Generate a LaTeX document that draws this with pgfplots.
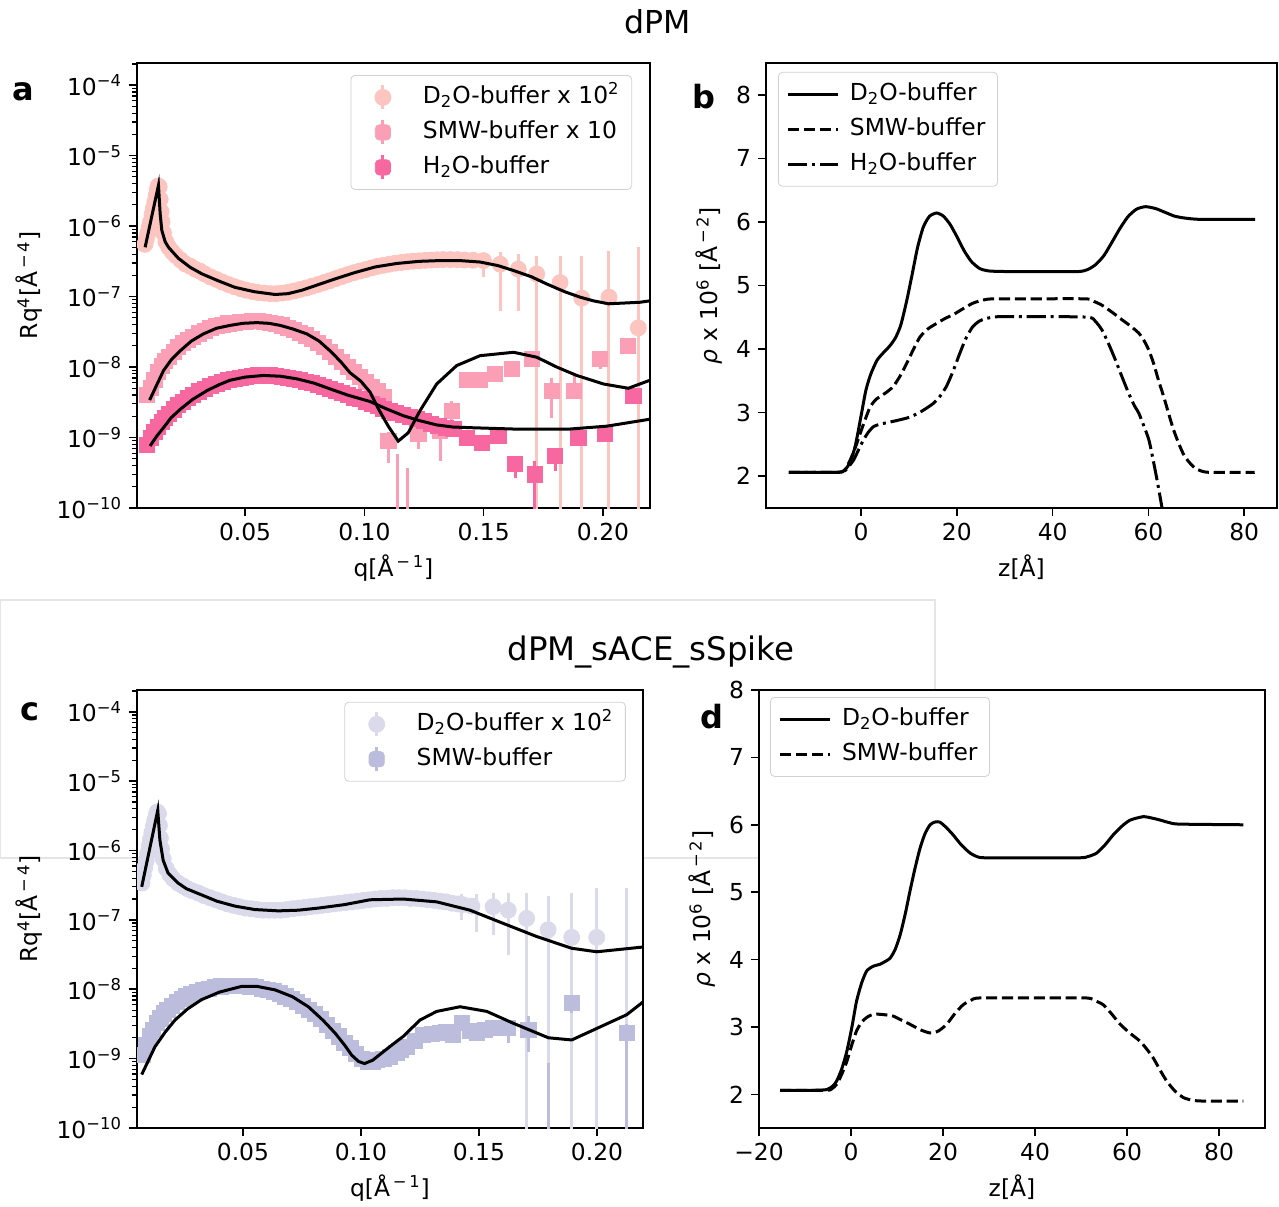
\documentclass[border=0pt]{standalone}
\usepackage{fontspec}
\setmainfont{DejaVu Sans}
\usepackage{pgfplots}
\pgfplotsset{compat=1.18}

\definecolor{pkA}{HTML}{FCC5C0}
\definecolor{pkB}{HTML}{FA9FB5}
\definecolor{pkC}{HTML}{F768A1}
\definecolor{puA}{HTML}{DADAEB}
\definecolor{puB}{HTML}{BCBDDC}

\newcommand{\fs}{\fontsize{11.7}{14}\selectfont}
\newcommand{\Am}[1]{Å\textsuperscript{\,−\,#1}}

\pgfplotsset{
  base/.style={
    scale only axis, anchor=south west,
    clip marker paths=true,
    axis background/.style={fill=white},
    axis line style={line width=0.8pt},
    tick align=outside, tick pos=left,
    major tick length=4pt, minor tick length=2.3pt,
    tick style={line width=0.8pt, black},
    minor tick style={line width=0.6pt},
    tick label style={font=\fs},
    label style={font=\fs},
    legend cell align=left,
    legend style={font=\fs, draw=black!18, rounded corners=2pt, fill=white,
      inner xsep=4pt, inner ysep=3pt, row sep=1.5pt,
      nodes={text height=9pt, text depth=3pt, inner sep=2pt}},
  },
  refl/.style={
    ymin=1e-10, ymax=2.06e-4,
    xtick={0.05,0.1,0.15,0.2}, xticklabels={0.05,0.10,0.15,0.20},
    ytick={1e-10,1e-9,1e-8,1e-7,1e-6,1e-5,1e-4},
    yticklabels={10\textsuperscript{−10},10\textsuperscript{−9},10\textsuperscript{−8},10\textsuperscript{−7},10\textsuperscript{−6},10\textsuperscript{−5},10\textsuperscript{−4}},
    minor ytick={2e-10,3e-10,4e-10,5e-10,6e-10,7e-10,8e-10,9e-10,
      2e-9,3e-9,4e-9,5e-9,6e-9,7e-9,8e-9,9e-9,
      2e-8,3e-8,4e-8,5e-8,6e-8,7e-8,8e-8,9e-8,
      2e-7,3e-7,4e-7,5e-7,6e-7,7e-7,8e-7,9e-7,
      2e-6,3e-6,4e-6,5e-6,6e-6,7e-6,8e-6,9e-6,
      2e-5,3e-5,4e-5,5e-5,6e-5,7e-5,8e-5,9e-5,2e-4},
    xlabel={q[\Am{1}]}, ylabel={Rq\textsuperscript{4}[\Am{4}]},
  },
  sld/.style={
    ytick={2,3,4,5,6,7,8}, yticklabels={2,3,4,5,6,7,8},
    xlabel={z[Å]}, ylabel={\textit{ρ} x 10\textsuperscript{6} [\Am{2}]},
    legend image code/.code={\draw[##1] (0pt,0pt) -- (25pt,0pt); \path[draw=none] (25pt,0pt) -- (29pt,0pt);},
  },
  circ/.style={only marks, mark=*, mark size=4pt, forget plot},
  sq/.style={only marks, mark=square*, mark size=3.8pt, forget plot},
  eb/.style={line width=1.5pt, forget plot},
  fitl/.style={black, line width=1.5pt, forget plot},
  prof/.style={black, line width=1.5pt, smooth, tension=0.4},
}

\begin{document}
\begin{tikzpicture}

% stray white box behind the lower panels
\draw[black!10, fill=white, line width=0.6pt] (0pt,174pt) rectangle (467.5pt,303pt);

\node[font=\fontsize{15.8}{18}\selectfont] at (329pt,592pt) {dPM};
\node[font=\fontsize{16.2}{18}\selectfont] at (325.5pt,277pt) {dPM\_sACE\_sSpike};

% ---------------- a ----------------
\begin{axis}[ymode=log, base, refl, at={(68.5pt,349pt)}, width=256.5pt, height=222.5pt,
  xmin=0.0047, xmax=0.2197,
  legend style={at={(0.965,0.973)}, anchor=north east}]
\addlegendimage{legend image code/.code={\draw[pkA, line width=1.5pt] (12pt,-6pt) -- (12pt,6pt); \fill[pkA] (12pt,0pt) circle (4pt); \path[draw=none] (0pt,0pt) rectangle (30pt,0.1pt);}}
\addlegendentry{D\textsubscript{2}O-buffer x 10\textsuperscript{2}}
\addlegendimage{legend image code/.code={\draw[pkB, line width=1.5pt] (12pt,-6pt) -- (12pt,6pt); \fill[pkB] (8.2pt,-3.8pt) rectangle (15.8pt,3.8pt); \path[draw=none] (0pt,0pt) rectangle (30pt,0.1pt);}}
\addlegendentry{SMW-buffer x 10}
\addlegendimage{legend image code/.code={\draw[pkC, line width=1.5pt] (12pt,-6pt) -- (12pt,6pt); \fill[pkC] (8.2pt,-3.8pt) rectangle (15.8pt,3.8pt); \path[draw=none] (0pt,0pt) rectangle (30pt,0.1pt);}}
\addlegendentry{H\textsubscript{2}O-buffer}

% D2O x 100
\addplot[circ, pkA] coordinates {(0.0080,5.5e-7)(0.0086,6.5e-7)(0.0092,7.9e-7)(0.0098,9.5e-7)(0.0104,1.15e-6)(0.0110,1.45e-6)(0.0116,1.8e-6)(0.0122,2.2e-6)(0.0127,2.7e-6)(0.0132,3.3e-6)(0.0136,3.7e-6)(0.0140,3.6e-6)(0.0144,2.4e-6)(0.0148,1.6e-6)(0.0152,1.15e-6)(0.0158,8.0e-7)(0.0168,6.0e-7)(0.0180,5.0e-7)(0.0195,4.3e-7)(0.0210,3.8e-7)(0.0230,3.3e-7)(0.0250,2.9e-7)(0.0270,2.7e-7)(0.0290,2.45e-7)(0.0310,2.3e-7)(0.0330,2.1e-7)(0.0355,1.9e-7)(0.0380,1.75e-7)(0.0405,1.6e-7)(0.0430,1.48e-7)(0.0455,1.38e-7)(0.0480,1.30e-7)(0.0505,1.23e-7)(0.0530,1.18e-7)(0.0555,1.14e-7)(0.0580,1.12e-7)(0.0605,1.10e-7)(0.0630,1.10e-7)(0.0655,1.12e-7)(0.0680,1.15e-7)(0.0705,1.20e-7)(0.0730,1.26e-7)(0.0755,1.32e-7)(0.0780,1.40e-7)(0.0805,1.48e-7)(0.0830,1.58e-7)(0.0855,1.68e-7)(0.0880,1.80e-7)(0.0905,1.92e-7)(0.0930,2.05e-7)(0.0955,2.18e-7)(0.0980,2.30e-7)(0.1005,2.42e-7)(0.1030,2.55e-7)(0.1055,2.68e-7)(0.1080,2.78e-7)(0.1105,2.88e-7)(0.1130,2.98e-7)(0.1155,3.05e-7)(0.1180,3.12e-7)(0.1205,3.18e-7)(0.1230,3.22e-7)(0.1255,3.26e-7)(0.1280,3.30e-7)(0.1305,3.33e-7)(0.1330,3.35e-7)(0.1360,3.35e-7)(0.1390,3.34e-7)(0.1420,3.30e-7)(0.1455,3.28e-7)(0.1499,3.24e-7)(0.1569,2.88e-7)(0.1645,2.45e-7)(0.1722,2.09e-7)(0.1820,1.58e-7)(0.1911,9.5e-8)(0.2025,9.8e-8)(0.2148,3.6e-8)};
\addplot[eb, pkA] coordinates {(0.1499,4.1e-7)(0.1499,1.9e-7)};
\addplot[eb, pkA] coordinates {(0.1569,4.3e-7)(0.1569,6.3e-8)};
\addplot[eb, pkA] coordinates {(0.1645,4.0e-7)(0.1645,6.3e-8)};
\addplot[eb, pkA] coordinates {(0.1722,3.8e-7)(0.1722,1e-11)};
\addplot[eb, pkA] coordinates {(0.1820,3.8e-7)(0.1820,1e-11)};
\addplot[eb, pkA] coordinates {(0.1911,3.8e-7)(0.1911,1e-11)};
\addplot[eb, pkA] coordinates {(0.2025,4.5e-7)(0.2025,1e-11)};
\addplot[eb, pkA] coordinates {(0.2148,5.0e-7)(0.2148,1e-11)};

% SMW x 10
\addplot[sq, pkB] coordinates {(0.0090,4.0e-9)(0.0105,5.0e-9)(0.0120,6.6e-9)(0.0135,8.5e-9)(0.0150,1.05e-8)(0.0165,1.23e-8)(0.0180,1.41e-8)(0.0200,1.66e-8)(0.0220,1.91e-8)(0.0240,2.19e-8)(0.0260,2.45e-8)(0.0280,2.69e-8)(0.0305,3.0e-8)(0.0330,3.3e-8)(0.0355,3.55e-8)(0.0380,3.8e-8)(0.0405,3.98e-8)(0.0430,4.17e-8)(0.0455,4.27e-8)(0.0480,4.37e-8)(0.0505,4.4e-8)(0.0530,4.47e-8)(0.0555,4.47e-8)(0.0580,4.37e-8)(0.0605,4.27e-8)(0.0630,4.07e-8)(0.0655,3.9e-8)(0.0680,3.63e-8)(0.0705,3.39e-8)(0.0730,3.09e-8)(0.0755,2.82e-8)(0.0780,2.51e-8)(0.0805,2.19e-8)(0.0830,1.91e-8)(0.0855,1.66e-8)(0.0880,1.41e-8)(0.0905,1.17e-8)(0.0930,1.0e-8)(0.0955,8.5e-9)(0.0980,7.2e-9)(0.1005,6.2e-9)(0.1030,5.2e-9)(0.1055,4.5e-9)(0.1080,3.8e-9)(0.1101,8.9e-10)(0.1226,1.12e-9)(0.1317,1.23e-9)(0.1366,2.4e-9)(0.1429,6.5e-9)(0.1485,6.5e-9)(0.1548,7.9e-9)(0.1618,9.3e-9)(0.1702,1.29e-8)(0.1785,4.6e-9)(0.1879,4.6e-9)(0.1988,1.29e-8)(0.2106,2.0e-8)};
\addplot[eb, pkB] coordinates {(0.1101,1.2e-9)(0.1101,4.3e-10)};
\addplot[eb, pkB] coordinates {(0.1140,5.9e-10)(0.1140,1e-11)};
\addplot[eb, pkB] coordinates {(0.1180,3.7e-10)(0.1180,1e-11)};
\addplot[eb, pkB] coordinates {(0.1226,1.4e-9)(0.1226,6.9e-10)};
\addplot[eb, pkB] coordinates {(0.1317,1.5e-9)(0.1317,4.7e-10)};
\addplot[eb, pkB] coordinates {(0.1366,3.3e-9)(0.1366,1.78e-9)};
\addplot[eb, pkB] coordinates {(0.1785,7.1e-9)(0.1785,1.9e-9)};
\addplot[eb, pkB] coordinates {(0.1879,7.9e-9)(0.1879,3.6e-9)};
\addplot[eb, pkB] coordinates {(0.1988,1.5e-8)(0.1988,9.3e-9)};

% H2O
\addplot[sq, pkC] coordinates {(0.0090,7.9e-10)(0.0105,1.0e-9)(0.0120,1.2e-9)(0.0135,1.41e-9)(0.0150,1.66e-9)(0.0165,1.91e-9)(0.0180,2.14e-9)(0.0200,2.51e-9)(0.0220,2.88e-9)(0.0240,3.24e-9)(0.0260,3.63e-9)(0.0280,4.0e-9)(0.0305,4.5e-9)(0.0330,4.9e-9)(0.0355,5.4e-9)(0.0380,5.75e-9)(0.0405,6.2e-9)(0.0430,6.5e-9)(0.0455,6.8e-9)(0.0480,7.1e-9)(0.0505,7.2e-9)(0.0530,7.4e-9)(0.0555,7.6e-9)(0.0580,7.6e-9)(0.0605,7.6e-9)(0.0630,7.4e-9)(0.0655,7.2e-9)(0.0680,7.1e-9)(0.0705,6.8e-9)(0.0730,6.5e-9)(0.0755,6.2e-9)(0.0780,5.9e-9)(0.0805,5.6e-9)(0.0830,5.2e-9)(0.0855,4.9e-9)(0.0880,4.6e-9)(0.0905,4.3e-9)(0.0930,4.0e-9)(0.0955,3.7e-9)(0.0980,3.5e-9)(0.1005,3.24e-9)(0.1030,3.0e-9)(0.1055,2.82e-9)(0.1080,2.57e-9)(0.1105,2.4e-9)(0.1130,2.24e-9)(0.1160,2.09e-9)(0.1190,1.95e-9)(0.1220,1.82e-9)(0.1250,1.70e-9)(0.1280,1.58e-9)(0.1310,1.48e-9)(0.1340,1.38e-9)(0.1373,1.32e-9)(0.1429,1.0e-9)(0.1492,8.5e-10)(0.1562,1.05e-9)(0.1632,4.2e-10)(0.1713,3.0e-10)(0.1799,5.5e-10)(0.1897,1.0e-9)(0.2009,1.12e-9)(0.2127,3.9e-9)};
\addplot[eb, pkC] coordinates {(0.1632,5.5e-10)(0.1632,2.7e-10)};
\addplot[eb, pkC] coordinates {(0.1713,4.7e-10)(0.1713,1e-11)};
\addplot[eb, pkC] coordinates {(0.1799,7.2e-10)(0.1799,3.4e-10)};
\addplot[eb, pkC] coordinates {(0.2009,1.3e-9)(0.2009,9e-10)};

% fits
\addplot[fitl] coordinates {(0.0081,5.0e-7)(0.0137,3.8e-6)(0.0144,1.5e-6)(0.0151,8.7e-7)(0.0165,6.0e-7)(0.0179,5.0e-7)(0.0220,3.5e-7)(0.0270,2.6e-7)(0.0319,2.1e-7)(0.0390,1.66e-7)(0.0458,1.35e-7)(0.0540,1.17e-7)(0.0626,1.07e-7)(0.0680,1.10e-7)(0.0738,1.23e-7)(0.0800,1.45e-7)(0.0877,1.78e-7)(0.0960,2.19e-7)(0.1045,2.63e-7)(0.1136,2.95e-7)(0.1230,3.16e-7)(0.1317,3.24e-7)(0.1400,3.24e-7)(0.1485,3.09e-7)(0.1560,2.75e-7)(0.1625,2.34e-7)(0.1700,1.91e-7)(0.1764,1.51e-7)(0.1840,1.17e-7)(0.1904,9.8e-8)(0.1960,8.7e-8)(0.2023,7.9e-8)(0.2090,8.1e-8)(0.2155,8.3e-8)(0.2197,8.7e-8)};
\addplot[fitl] coordinates {(0.0100,3.4e-9)(0.0130,5.6e-9)(0.0158,8.9e-9)(0.0190,1.26e-8)(0.0228,1.70e-8)(0.0275,2.34e-8)(0.0325,2.95e-8)(0.0380,3.55e-8)(0.0437,3.9e-8)(0.0490,4.17e-8)(0.0549,4.27e-8)(0.0600,4.17e-8)(0.0647,3.9e-8)(0.0700,3.47e-8)(0.0759,2.95e-8)(0.0810,2.34e-8)(0.0856,1.70e-8)(0.0900,1.20e-8)(0.0940,8.3e-9)(0.0985,6.3e-9)(0.1024,4.4e-9)(0.1060,2.51e-9)(0.1100,1.45e-9)(0.1142,8.9e-10)(0.1184,1.17e-9)(0.1233,2.4e-9)(0.1303,5.75e-9)(0.1387,1.05e-8)(0.1485,1.45e-8)(0.1625,1.62e-8)(0.1722,1.38e-8)(0.1806,1.0e-8)(0.1890,7.6e-9)(0.2002,5.75e-9)(0.2106,5.0e-9)(0.2197,6.5e-9)};
\addplot[fitl] coordinates {(0.0102,7.6e-10)(0.0130,1.05e-9)(0.0158,1.38e-9)(0.0190,1.91e-9)(0.0228,2.51e-9)(0.0280,3.47e-9)(0.0339,4.6e-9)(0.0390,5.6e-9)(0.0437,6.5e-9)(0.0500,7.2e-9)(0.0577,7.6e-9)(0.0650,7.4e-9)(0.0717,6.8e-9)(0.0790,5.9e-9)(0.0856,4.9e-9)(0.0930,4.0e-9)(0.1024,3.24e-9)(0.1090,2.57e-9)(0.1163,2.04e-9)(0.1230,1.74e-9)(0.1303,1.51e-9)(0.1370,1.41e-9)(0.1443,1.38e-9)(0.1625,1.32e-9)(0.1862,1.32e-9)(0.2016,1.45e-9)(0.2197,1.82e-9)};
\end{axis}

% ---------------- b ----------------
\begin{axis}[base, sld, at={(383pt,349pt)}, width=255.5pt, height=222.5pt,
  xmin=-19.85, xmax=86.85, ymin=1.5, ymax=8.5,
  xtick={0,20,40,60,80}, xticklabels={0,20,40,60,80},
  legend style={at={(0.0235,0.98)}, anchor=north west}]
\addplot[prof] coordinates {(-15.1,2.06)(-10,2.06)(-5,2.06)(-3.5,2.09)(-2.3,2.22)(-1.2,2.48)(0,2.95)(1,3.35)(2,3.6)(3.3,3.82)(4.5,3.93)(6,4.05)(7.2,4.18)(8.3,4.38)(9.5,4.75)(10.6,5.15)(11.8,5.6)(13,5.92)(14.3,6.09)(15.8,6.14)(17.2,6.09)(18.6,5.96)(20,5.77)(21.5,5.55)(23,5.38)(24.7,5.27)(26.5,5.23)(30,5.22)(40,5.22)(45.5,5.22)(47.3,5.25)(49,5.33)(50.7,5.47)(52.3,5.67)(54,5.89)(55.7,6.08)(57.5,6.2)(59.4,6.24)(61.5,6.21)(63.5,6.15)(65.5,6.09)(67.7,6.06)(71,6.04)(82.3,6.04)};
\addlegendentry{D\textsubscript{2}O-buffer}
\addplot[prof, dash pattern=on 5.55pt off 2.4pt] coordinates {(-15.1,2.06)(-5,2.06)(-3.5,2.09)(-2.3,2.25)(-1.2,2.45)(-0.2,2.67)(0.9,2.9)(1.9,3.09)(3,3.2)(3.9,3.25)(5.3,3.32)(6.7,3.41)(8.1,3.57)(9.5,3.77)(10.9,3.99)(12.3,4.19)(14,4.32)(15.7,4.40)(17.5,4.48)(19.2,4.54)(21.2,4.63)(23.3,4.72)(25.4,4.77)(27.5,4.79)(35,4.79)(46.9,4.79)(48.6,4.75)(50.3,4.69)(52.4,4.58)(54.5,4.46)(56.3,4.36)(58,4.25)(59.1,4.13)(60.1,3.98)(61.1,3.77)(62.1,3.51)(63.2,3.25)(64.2,2.99)(65.2,2.74)(66.3,2.52)(67.3,2.35)(68.4,2.23)(69.7,2.13)(71.1,2.08)(73,2.06)(82.2,2.06)};
\addlegendentry{SMW-buffer}
\addplot[prof, dash pattern=on 9.6pt off 2.4pt on 1.5pt off 2.4pt] coordinates {(-15.1,2.06)(-5,2.06)(-3.3,2.09)(-1.6,2.25)(-0.5,2.42)(0.5,2.57)(1.5,2.69)(2.6,2.78)(4,2.82)(5.3,2.84)(7.7,2.88)(10.2,2.93)(12.6,3.02)(15,3.14)(16.4,3.25)(17.8,3.41)(19.2,3.65)(20.6,3.93)(21.9,4.17)(23.3,4.35)(24.7,4.44)(26.1,4.48)(28.9,4.51)(40,4.51)(47.6,4.50)(49,4.43)(50.3,4.30)(51.7,4.08)(53.1,3.83)(54.5,3.56)(55.9,3.30)(57,3.12)(58,2.99)(59,2.80)(60.1,2.57)(61,2.25)(61.8,1.94)(62.8,1.52)(63.5,1.2)};
\addlegendentry{H\textsubscript{2}O-buffer}
\end{axis}

% ---------------- c ----------------
\begin{axis}[ymode=log, base, refl, at={(68.5pt,39pt)}, width=253pt, height=219pt,
  xmin=0.0051, xmax=0.2195,
  legend style={at={(0.966,0.973)}, anchor=north east}]
\addlegendimage{legend image code/.code={\draw[puA, line width=1.5pt] (12pt,-6pt) -- (12pt,6pt); \fill[puA] (12pt,0pt) circle (4pt); \path[draw=none] (0pt,0pt) rectangle (30pt,0.1pt);}}
\addlegendentry{D\textsubscript{2}O-buffer x 10\textsuperscript{2}}
\addlegendimage{legend image code/.code={\draw[puB, line width=1.5pt] (12pt,-6pt) -- (12pt,6pt); \fill[puB] (8.2pt,-3.8pt) rectangle (15.8pt,3.8pt); \path[draw=none] (0pt,0pt) rectangle (30pt,0.1pt);}}
\addlegendentry{SMW-buffer}

\addplot[circ, puA] coordinates {(0.0072,3.4e-7)(0.0078,4.4e-7)(0.0084,5.7e-7)(0.0090,7.1e-7)(0.0096,9.0e-7)(0.0102,1.15e-6)(0.0108,1.45e-6)(0.0114,1.8e-6)(0.0120,2.2e-6)(0.0126,2.7e-6)(0.0132,3.2e-6)(0.0137,3.6e-6)(0.0142,3.4e-6)(0.0146,2.3e-6)(0.0150,1.5e-6)(0.0155,1.05e-6)(0.0162,7.6e-7)(0.0175,5.5e-7)(0.0190,4.5e-7)(0.0205,3.9e-7)(0.0225,3.4e-7)(0.0245,3.1e-7)(0.0265,2.82e-7)(0.0285,2.63e-7)(0.0310,2.45e-7)(0.0335,2.24e-7)(0.0360,2.09e-7)(0.0385,1.95e-7)(0.0410,1.82e-7)(0.0435,1.70e-7)(0.0460,1.62e-7)(0.0485,1.55e-7)(0.0510,1.48e-7)(0.0535,1.45e-7)(0.0560,1.41e-7)(0.0585,1.38e-7)(0.0610,1.38e-7)(0.0635,1.38e-7)(0.0660,1.38e-7)(0.0685,1.41e-7)(0.0710,1.45e-7)(0.0735,1.48e-7)(0.0760,1.51e-7)(0.0785,1.55e-7)(0.0810,1.58e-7)(0.0835,1.62e-7)(0.0860,1.66e-7)(0.0885,1.70e-7)(0.0910,1.74e-7)(0.0935,1.78e-7)(0.0960,1.82e-7)(0.0985,1.86e-7)(0.1010,1.91e-7)(0.1035,1.95e-7)(0.1060,2.0e-7)(0.1085,2.04e-7)(0.1110,2.04e-7)(0.1135,2.09e-7)(0.1160,2.09e-7)(0.1185,2.09e-7)(0.1210,2.04e-7)(0.1235,2.04e-7)(0.1260,2.0e-7)(0.1285,1.95e-7)(0.1310,1.91e-7)(0.1335,1.86e-7)(0.1360,1.82e-7)(0.1385,1.74e-7)(0.1410,1.70e-7)(0.1430,1.66e-7)(0.1470,1.58e-7)(0.1560,1.55e-7)(0.1624,1.38e-7)(0.1702,1.05e-7)(0.1793,7.2e-8)(0.1893,5.6e-8)(0.1999,5.6e-8)};
\addplot[eb, puA] coordinates {(0.1427,2.4e-7)(0.1427,1.0e-7)};
\addplot[eb, puA] coordinates {(0.1490,2.4e-7)(0.1490,6.8e-8)};
\addplot[eb, puA] coordinates {(0.1560,2.45e-7)(0.1560,6.0e-8)};
\addplot[eb, puA] coordinates {(0.1624,2.45e-7)(0.1624,3.16e-8)};
\addplot[eb, puA] coordinates {(0.1702,2.45e-7)(0.1702,1e-11)};
\addplot[eb, puA] coordinates {(0.1793,2.19e-7)(0.1793,1e-11)};
\addplot[eb, puA] coordinates {(0.1893,2.45e-7)(0.1893,1e-11)};
\addplot[eb, puA] coordinates {(0.1999,2.88e-7)(0.1999,1e-11)};
\addplot[eb, puA] coordinates {(0.2126,2.88e-7)(0.2126,1e-11)};

\addplot[sq, puB] coordinates {(0.0075,1.12e-9)(0.0090,1.58e-9)(0.0105,2.09e-9)(0.0120,2.63e-9)(0.0135,3.24e-9)(0.0150,3.8e-9)(0.0165,4.5e-9)(0.0180,5.0e-9)(0.0200,5.75e-9)(0.0220,6.6e-9)(0.0240,7.2e-9)(0.0260,7.9e-9)(0.0280,8.5e-9)(0.0305,9.1e-9)(0.0330,9.8e-9)(0.0355,1.02e-8)(0.0380,1.07e-8)(0.0405,1.10e-8)(0.0430,1.12e-8)(0.0455,1.12e-8)(0.0480,1.12e-8)(0.0505,1.12e-8)(0.0530,1.10e-8)(0.0555,1.07e-8)(0.0580,1.02e-8)(0.0605,9.8e-9)(0.0630,9.3e-9)(0.0655,8.7e-9)(0.0680,7.9e-9)(0.0705,7.2e-9)(0.0730,6.5e-9)(0.0755,5.75e-9)(0.0780,5.0e-9)(0.0805,4.4e-9)(0.0830,3.7e-9)(0.0855,3.09e-9)(0.0880,2.51e-9)(0.0905,2.09e-9)(0.0930,1.70e-9)(0.0955,1.41e-9)(0.0980,1.17e-9)(0.1005,1.0e-9)(0.1030,9.1e-10)(0.1050,9.1e-10)(0.1067,9.5e-10)(0.1095,1.0e-9)(0.1123,1.07e-9)(0.1150,1.20e-9)(0.1170,1.32e-9)(0.1194,1.48e-9)(0.1230,1.78e-9)(0.1264,2.19e-9)(0.1300,2.29e-9)(0.1335,2.34e-9)(0.1360,2.40e-9)(0.1391,2.19e-9)(0.1427,3.24e-9)(0.1460,2.51e-9)(0.1490,2.34e-9)(0.1525,2.63e-9)(0.1561,2.75e-9)(0.1624,2.75e-9)(0.1709,2.63e-9)(0.1893,6.3e-9)(0.2126,2.34e-9)};
\addplot[eb, puB] coordinates {(0.1624,3.6e-9)(0.1624,1.70e-9)};
\addplot[eb, puB] coordinates {(0.1709,4.1e-9)(0.1709,1.26e-9)};
\addplot[eb, puB] coordinates {(0.1793,8.7e-10)(0.1793,1e-11)};
\addplot[eb, puB] coordinates {(0.1893,8.3e-9)(0.1893,4.6e-9)};
\addplot[eb, puB] coordinates {(0.2126,3.2e-9)(0.2126,1e-11)};

\addplot[fitl] coordinates {(0.0071,3.0e-7)(0.0139,3.8e-6)(0.0148,1.41e-6)(0.0162,7.2e-7)(0.0183,4.7e-7)(0.0225,3.4e-7)(0.0260,2.82e-7)(0.0325,2.29e-7)(0.0390,1.86e-7)(0.0466,1.58e-7)(0.0550,1.41e-7)(0.0650,1.35e-7)(0.0735,1.38e-7)(0.0819,1.48e-7)(0.0930,1.66e-7)(0.1038,1.95e-7)(0.1179,2.0e-7)(0.1321,1.82e-7)(0.1462,1.38e-7)(0.1603,8.9e-8)(0.1745,5.75e-8)(0.1893,3.9e-8)(0.1999,3.47e-8)(0.2196,4.07e-8)};
\addplot[fitl] coordinates {(0.0071,5.9e-10)(0.0100,9.5e-10)(0.0127,1.48e-9)(0.0170,2.4e-9)(0.0212,3.6e-9)(0.0265,5.2e-9)(0.0325,7.1e-9)(0.0400,9.1e-9)(0.0494,1.10e-8)(0.0560,1.10e-8)(0.0636,9.8e-9)(0.0710,7.8e-9)(0.0777,5.6e-9)(0.0840,3.55e-9)(0.0890,2.34e-9)(0.0930,1.58e-9)(0.0961,1.12e-9)(0.0990,9.1e-10)(0.1015,8.5e-10)(0.1050,9.5e-10)(0.1095,1.26e-9)(0.1140,1.66e-9)(0.1179,2.09e-9)(0.1250,3.6e-9)(0.1321,4.8e-9)(0.1420,5.6e-9)(0.1533,4.8e-9)(0.1645,3.24e-9)(0.1794,2.0e-9)(0.1893,1.86e-9)(0.2126,4.3e-9)(0.2196,6.6e-9)};
\end{axis}

% ---------------- d ----------------
\begin{axis}[base, sld, at={(379.5pt,39pt)}, width=253pt, height=219pt,
  xmin=-20, xmax=90, ymin=1.5, ymax=8,
  xtick={-20,0,20,40,60,80}, xticklabels={−20,0,20,40,60,80},
  legend style={at={(0.022,0.984)}, anchor=north west}]
\addplot[prof] coordinates {(-15.4,2.06)(-8,2.06)(-5.3,2.07)(-4,2.12)(-3.1,2.20)(-2,2.38)(-0.9,2.64)(0.2,3.0)(1.2,3.38)(2.3,3.65)(3.4,3.83)(4.8,3.9)(6.3,3.93)(7.4,3.97)(8.5,4.02)(9.6,4.15)(10.7,4.37)(11.8,4.68)(12.8,5.01)(13.9,5.35)(15,5.65)(16.1,5.87)(17.2,6.00)(18.2,6.04)(19.3,6.04)(20.7,5.96)(22.2,5.85)(24,5.70)(25.9,5.58)(27.7,5.52)(29.5,5.51)(40,5.51)(49.8,5.51)(51.6,5.53)(53.4,5.58)(55.2,5.70)(57,5.85)(58.9,5.98)(60.7,6.07)(63.5,6.12)(65.4,6.10)(67.2,6.07)(69.3,6.03)(71.5,6.01)(85.3,6.00)};
\addlegendentry{D\textsubscript{2}O-buffer}
\addplot[prof, dash pattern=on 5.55pt off 2.4pt] coordinates {(-15.4,2.06)(-5.5,2.06)(-4.2,2.08)(-3.1,2.15)(-2,2.30)(-0.9,2.49)(0.2,2.74)(1.2,2.94)(2.3,3.07)(3.4,3.14)(4.5,3.18)(5.6,3.19)(7.4,3.18)(9.2,3.16)(11,3.10)(12.8,3.04)(15,2.96)(17.2,2.91)(19,2.94)(20.8,3.04)(22.6,3.20)(24.4,3.33)(26.2,3.40)(28,3.43)(40,3.43)(51.2,3.43)(53,3.39)(54.8,3.33)(56.7,3.19)(58.5,3.04)(60.6,2.91)(62.8,2.79)(64.3,2.67)(65.7,2.54)(67.1,2.37)(68.6,2.20)(70.4,2.05)(72.3,1.95)(74.4,1.91)(76.6,1.90)(85.3,1.90)};
\addlegendentry{SMW-buffer}
\end{axis}

\node[font=\fontsize{16}{18}\selectfont\bfseries] at (11.5pt,557pt) {a};
\node[font=\fontsize{16}{18}\selectfont\bfseries] at (352pt,554.5pt) {b};
\node[font=\fontsize{16}{18}\selectfont\bfseries] at (15pt,247pt) {c};
\node[font=\fontsize{16}{18}\selectfont\bfseries] at (356pt,244.5pt) {d};

\pgfresetboundingbox
\path[use as bounding box] (0pt,0pt) rectangle (639.5pt,603pt);
\end{tikzpicture}
\end{document}
